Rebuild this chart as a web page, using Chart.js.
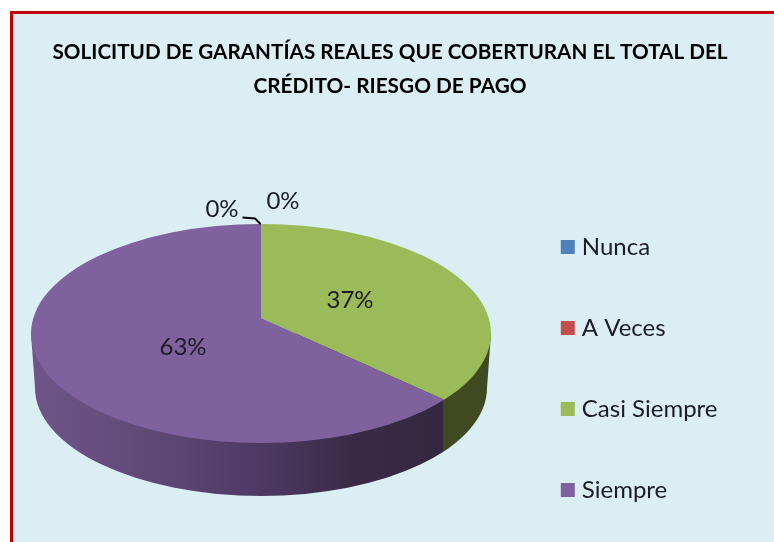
<!DOCTYPE html>
<html><head><meta charset="utf-8">
<style>
html,body{margin:0;padding:0;background:#fff;width:774px;height:542px;overflow:hidden}
#frame{position:absolute;left:10px;top:11px;width:800px;height:600px;background:#DBEEF4;border:3px solid #C00000;box-sizing:border-box}
#wrap{position:absolute;left:0;top:0;width:774px;height:542px}
</style>
<script src="https://cdn.jsdelivr.net/npm/chart.js@4"></script>
</head><body>
<div id="frame"></div>
<div id="wrap"><canvas id="c" width="774" height="542"></canvas></div>
<script>
const titleLines = ["SOLICITUD DE GARANTÍAS REALES QUE COBERTURAN EL TOTAL DEL","CRÉDITO- RIESGO DE PAGO"];
const categories = ["Nunca","A Veces","Casi Siempre","Siempre"];
const values = [0,0,37,63];
const sliceColors = ["#4F81BD","#C0504D","#9BBB59","#7F619E"];
const labelPositions = [[222,209],[283,201],[350,300],[183,347]];

const FONT = "Lato, Carlito, Calibri, sans-serif";
const TOP = {cx:261, cy:333.5, rx:230, ry:109.5};
const BASE = {cx:261, cy:388, rx:226, ry:108};
const APEX = {x:261, y:318, k:0.476, r:320};

function sideWall(ctx, chart){
  const arcs = chart.getDatasetMeta(0).data;
  const a = arcs[2];
  const ang = a.endAngle;
  const dx = Math.cos(ang), dy = Math.sin(ang)*APEX.k;
  const ox = APEX.x-TOP.cx, oy = APEX.y-TOP.cy;
  const A = dx*dx/(TOP.rx*TOP.rx)+dy*dy/(TOP.ry*TOP.ry);
  const B = 2*(ox*dx/(TOP.rx*TOP.rx)+oy*dy/(TOP.ry*TOP.ry));
  const C = ox*ox/(TOP.rx*TOP.rx)+oy*oy/(TOP.ry*TOP.ry)-1;
  const t = (-B+Math.sqrt(B*B-4*A*C))/(2*A);
  const bx = APEX.x+dx*t;

  const hull = () => {
    ctx.beginPath();
    ctx.moveTo(TOP.cx-TOP.rx, TOP.cy);
    ctx.lineTo(BASE.cx-BASE.rx, BASE.cy);
    ctx.ellipse(BASE.cx,BASE.cy,BASE.rx,BASE.ry,0,Math.PI,0,true);
    ctx.lineTo(TOP.cx+TOP.rx, TOP.cy);
    ctx.closePath();
  };
  const g = ctx.createLinearGradient(31,0,bx,0);
  g.addColorStop(0,"#6F5589");
  g.addColorStop(0.3,"#5F4875");
  g.addColorStop(0.55,"#4E3A64");
  g.addColorStop(0.78,"#3A2A47");
  g.addColorStop(1,"#332840");
  ctx.save();
  ctx.beginPath(); ctx.rect(0,0,bx-1,542); ctx.clip();
  hull(); ctx.fillStyle=g; ctx.fill();
  ctx.restore();
  ctx.save();
  ctx.beginPath(); ctx.rect(bx-1,0,400,542); ctx.clip();
  hull(); ctx.fillStyle="#3F4A20"; ctx.fill();
  ctx.restore();
}

const pie3d = {
  id:"pie3d",
  beforeDatasetsDraw(chart){
    const ctx = chart.ctx;
    const e = chart.getDatasetMeta(0).data[3];
    sideWall(ctx, chart);
    ctx.save();
    ctx.beginPath();
    ctx.ellipse(TOP.cx,TOP.cy,TOP.rx,TOP.ry,0,0,Math.PI*2);
    ctx.clip();
    const s = APEX.r/e.outerRadius;
    ctx.translate(APEX.x,APEX.y);
    ctx.scale(s,s*APEX.k);
    ctx.translate(-e.x,-e.y);
  },
  afterDatasetsDraw(chart){
    const ctx = chart.ctx;
    ctx.restore();
    ctx.save();
    ctx.strokeStyle="#000"; ctx.lineWidth=2; ctx.lineJoin="round";
    ctx.beginPath(); ctx.moveTo(242.5,217.5); ctx.lineTo(255,218.5); ctx.lineTo(260.5,224); ctx.stroke();
    ctx.font="24px "+FONT;
    ctx.textAlign="center"; ctx.textBaseline="middle"; ctx.fillStyle="#1c1c24";
    values.forEach((v,i)=>{
      ctx.fillText(v+"%",labelPositions[i][0],labelPositions[i][1]);
    });
    ctx.restore();
  }
};

new Chart(document.getElementById("c"),{
  type:"pie",
  data:{labels:categories,datasets:[{data:values,backgroundColor:sliceColors,borderWidth:0,clip:false}]},
  plugins:[pie3d],
  options:{
    responsive:false,animation:false,rotation:0,
    layout:{padding:{left:52.5,right:46.5,top:0,bottom:-17}},
    plugins:{
      tooltip:{enabled:false},
      title:{display:true,text:titleLines,color:"#000",
        font:{family:FONT,size:20.8,weight:"bold",lineHeight:1.63},
        padding:{top:35.5,bottom:10}},
      legend:{display:true,position:"right",align:"end",fullSize:true,
        labels:{color:"#1c1c24",font:{family:FONT,size:24},boxWidth:4,boxHeight:4,padding:57,
          generateLabels(chart){
            return categories.map((t,i)=>({text:t,fillStyle:sliceColors[i],strokeStyle:sliceColors[i],lineWidth:10,index:i,fontColor:"#1c1c24"}));
          }}}
    }
  }
});
</script>
</body></html>
